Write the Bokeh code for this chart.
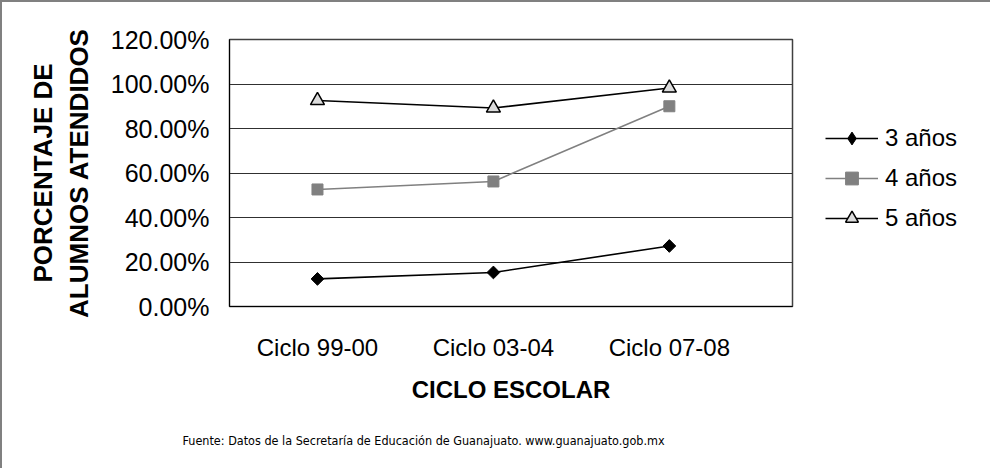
import math
from bokeh.plotting import figure
from bokeh.models import Range1d, FixedTicker, Legend, LegendItem, Title
from bokeh.embed import file_html
from bokeh.resources import INLINE

# ---- data ----
categorias = ["Ciclo 99-00", "Ciclo 03-04", "Ciclo 07-08"]
tres_anos = [12.4, 15.3, 27.2]
cuatro_anos = [52.6, 56.2, 90.0]
cinco_anos = [92.6, 89.2, 98.2]
serie_nombres = ["3 años", "4 años", "5 años"]
y_ticks = [0, 20, 40, 60, 80, 100, 120]
fuente = "Fuente: Datos de la Secretaría de Educación de Guanajuato. www.guanajuato.gob.mx"

xs = list(range(len(categorias)))

FONT = "Liberation Sans"

p = figure(width=986, height=464, output_backend="svg", toolbar_location=None,
           x_range=Range1d(-0.5, 2.7), y_range=Range1d(0, 120),
           frame_width=563, frame_height=267,
           min_border_left=227, min_border_right=196,
           min_border_top=37, min_border_bottom=160)
p.background_fill_color = "white"
p.border_fill_color = "white"
p.outline_line_color = "#404040"
p.outline_line_width = 1.5
p.styles = {"border-left": "2px solid #808080", "border-top": "2px solid #808080"}

# axes
p.xaxis.ticker = FixedTicker(ticks=xs)
p.xaxis.major_label_overrides = {i: c for i, c in zip(xs, categorias)}
p.xaxis.major_tick_in = 0
p.xaxis.major_tick_out = 0
p.xaxis.minor_tick_line_color = None
p.xaxis.axis_line_color = "black"
p.xaxis.major_label_standoff = 27
p.xaxis.major_label_text_font = FONT
p.xaxis.major_label_text_font_size = "24px"
p.xaxis.major_label_text_color = "black"
p.xaxis.axis_label = "CICLO ESCOLAR"
p.xaxis.axis_label_text_font = FONT
p.xaxis.axis_label_text_font_style = "bold"
p.xaxis.axis_label_text_font_size = "24px"
p.xaxis.axis_label_text_color = "black"
p.xaxis.axis_label_standoff = 12

p.yaxis.ticker = FixedTicker(ticks=y_ticks)
p.yaxis.major_label_overrides = {v: f"{v:.2f}%" for v in y_ticks}
p.yaxis.major_tick_in = 0
p.yaxis.major_tick_out = 0
p.yaxis.minor_tick_line_color = None
p.yaxis.axis_line_color = "black"
p.yaxis.major_label_standoff = 20
p.yaxis.major_label_text_font = FONT
p.yaxis.major_label_text_font_size = "25px"
p.yaxis.major_label_text_color = "black"
p.yaxis.axis_label = "PORCENTAJE DE\nALUMNOS ATENDIDOS"
p.yaxis.axis_label_text_font = FONT
p.yaxis.axis_label_text_font_style = "bold"
p.yaxis.axis_label_text_font_size = "26px"
p.yaxis.axis_label_text_color = "black"
p.yaxis.axis_label_standoff = 14

p.xgrid.grid_line_color = None
p.ygrid.ticker = FixedTicker(ticks=y_ticks)
p.ygrid.grid_line_color = "#303030"
p.ygrid.grid_line_width = 1

# series
l1 = p.line(xs, tres_anos, line_color="black", line_width=1.6)
s1 = p.scatter(xs, tres_anos, marker="square", angle=math.pi / 4, size=9,
               fill_color="black", line_color="black")
l2 = p.line(xs, cuatro_anos, line_color="#808080", line_width=1.6)
s2 = p.scatter(xs, cuatro_anos, marker="square", size=11,
               fill_color="#808080", line_color="#808080")
l3 = p.line(xs, cinco_anos, line_color="black", line_width=1.6)
s3 = p.scatter(xs, cinco_anos, marker="triangle", size=14,
               fill_color="#dcdcdc", line_color="black", line_width=1.5)

# legend-only key for the diamond marker (legend ignores marker angle)
k1 = p.scatter(x=[float("nan")], y=[float("nan")], marker="diamond", size=15,
               fill_color="black", line_color="black")

legend = Legend(items=[
    LegendItem(label=serie_nombres[0], renderers=[l1, k1]),
    LegendItem(label=serie_nombres[1], renderers=[l2, s2]),
    LegendItem(label=serie_nombres[2], renderers=[l3, s3]),
], location=(33, 72))
legend.border_line_color = None
legend.background_fill_alpha = 0
legend.margin = 0
legend.padding = 0
legend.glyph_width = 53
legend.glyph_height = 32
legend.label_height = 24
legend.spacing = 8
legend.label_standoff = 7
legend.label_text_font = FONT
legend.label_text_font_size = "24px"
legend.label_text_color = "black"
p.add_layout(legend, "right")

t = Title(text=fuente, align="left", offset=-47,
          text_font="Liberation Sans Narrow, DejaVu Sans Condensed, sans-serif",
          text_font_size="12.5px", text_font_style="normal", text_color="black",
          standoff=50)
p.add_layout(t, "below")

open("out.html", "w").write(file_html(p, INLINE))
